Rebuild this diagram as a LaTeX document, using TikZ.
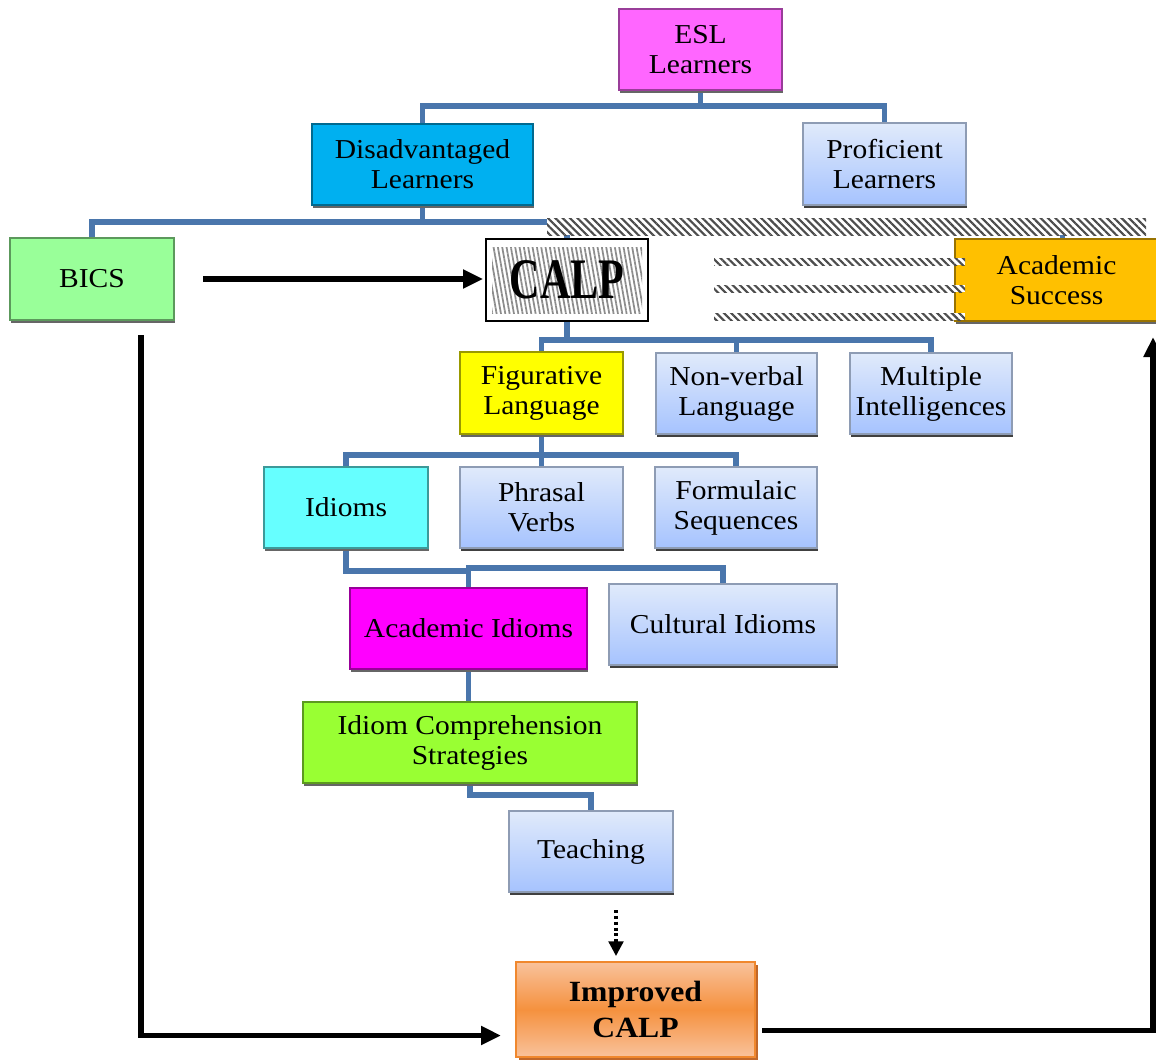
\documentclass[tikz,border=0pt]{standalone}
\usepackage{fontspec}
\setmainfont{Liberation Serif}[FakeStretch=1.08]
\usetikzlibrary{arrows.meta,shadows,patterns.meta,calc}
\definecolor{connc}{HTML}{4A76AC}
\definecolor{eslc}{HTML}{FF66FF}
\definecolor{disc}{HTML}{00B0F0}
\definecolor{bicsc}{HTML}{99FF99}
\definecolor{acsc}{HTML}{FFC000}
\definecolor{figc}{HTML}{FFFF00}
\definecolor{idic}{HTML}{66FFFF}
\definecolor{acidc}{HTML}{FF00FF}
\definecolor{icsc}{HTML}{99FF33}
\definecolor{gtop}{HTML}{E0EAFB}
\definecolor{gbot}{HTML}{A6C3FE}
\definecolor{gborder}{HTML}{8E9CB4}
\definecolor{imptop}{HTML}{F9C29C}
\definecolor{impmid}{HTML}{F5913E}
\definecolor{impborder}{HTML}{F0882E}
\definecolor{impshadow}{HTML}{C0672A}
\pgfdeclarelayer{bg}
\pgfsetlayers{bg,main}
\newcommand\bx[7]{%
  \node[#6, minimum width={(#4-#2)*0.75pt}, minimum height={(#5-#3)*0.75pt}] (#1) at ({(#2+#4)/2},{(#3+#5)/2}) {#7};}
\begin{document}
\begin{tikzpicture}[x=0.75pt,y=-0.75pt,
  base/.style={rectangle, inner sep=0pt, outer sep=0pt, align=center,
    font=\fontsize{20.5}{22.5}\selectfont, line width=0.8pt},
  solidbox/.style={base, fill=#1, draw=#1!60!black,
    drop shadow={shadow xshift=0.8pt, shadow yshift=-2pt, fill=black!60, opacity=1}},
  gradbox/.style={base, top color=gtop, bottom color=gbot, draw=gborder,
    drop shadow={shadow xshift=0.8pt, shadow yshift=-2pt, fill=black!75, opacity=1}},
  calpbox/.style={base, fill=white, draw=black, line width=1.4pt},
  calpin/.style={inner sep=0pt, outer sep=0pt,
    pattern={Lines[angle=100,distance=3.2pt,line width=1.3pt]}, pattern color=black!45},
  impbox/.style={base, top color=imptop, bottom color=imptop, middle color=impmid,
    draw=impborder, font=\fontsize{22}{27}\selectfont\bfseries,
    drop shadow={shadow xshift=2.5pt, shadow yshift=-2pt, fill=impshadow, opacity=1}},
  hatchbar/.style={inner sep=0pt, outer sep=0pt, preaction={fill=white},
    pattern={Lines[angle=-45,distance=3.9pt,line width=1.6pt]}, pattern color=black!70},
  connline/.style={draw=connc, line width=3.8pt, line cap=rect, line join=miter},
  arr/.style={line width=4pt, -{Triangle[length=15pt,width=13.5pt]}},
  dotarr/.style={line width=2.4pt, dash pattern=on 2.2pt off 2.2pt, -{Triangle[length=11pt,width=11pt]}}
]
\useasboundingbox (0,0) rectangle (1156,1060);

% boxes
\bx{esl}{619}{9}{782}{90}{solidbox=eslc}{ESL\\Learners}
\bx{dis}{312}{124}{533}{205}{solidbox=disc}{Disadvantaged\\Learners}
\bx{prof}{803}{123}{966}{205}{gradbox}{Proficient\\Learners}
\bx{bics}{10}{238}{174}{320}{solidbox=bicsc}{BICS}
\bx{calp}{486}{239}{648}{321}{calpbox}{}
\bx{calpt}{492}{247}{642}{313}{calpin}{\scalebox{0.68}[1]{\fontsize{43}{43}\selectfont\bfseries CALP}}
\bx{acs}{955}{239}{1158}{321}{solidbox=acsc}{Academic\\Success}
\bx{fig}{460}{352}{623}{434}{solidbox=figc}{Figurative\\Language}
\bx{nonv}{656}{353}{817}{434}{gradbox}{Non-verbal\\Language}
\bx{multi}{850}{353}{1012}{434}{gradbox}{Multiple\\Intelligences}
\bx{idi}{264}{467}{428}{548}{solidbox=idic}{Idioms}
\bx{phr}{460}{467}{623}{548}{gradbox}{Phrasal\\Verbs}
\bx{form}{655}{467}{817}{548}{gradbox}{Formulaic\\Sequences}
\bx{acid}{350}{588}{587}{669}{solidbox=acidc}{Academic Idioms}
\bx{cult}{609}{584}{837}{665}{gradbox}{Cultural Idioms}
\bx{ics}{303}{702}{637}{783}{solidbox=icsc}{Idiom Comprehension\\Strategies}
\bx{teach}{509}{811}{673}{892}{gradbox}{Teaching}
\bx{imp}{516}{962}{755}{1057}{impbox}{Improved\\CALP}

% hatched bars
\bx{hb0}{547}{218}{1146}{235}{hatchbar}{}
\bx{hb1}{714}{258}{965}{265}{hatchbar}{}
\bx{hb2}{714}{285}{965}{292}{hatchbar}{}
\bx{hb3}{714}{313}{965}{320}{hatchbar}{}

% connectors (behind boxes)
\begin{pgfonlayer}{bg}
\coordinate (j1) at (700.5,106);
\draw[connline] (esl.south) -- (j1);
\draw[connline] (dis.north) |- (j1) -| (prof.north);
\coordinate (j2) at (422.5,222);
\coordinate (j2r) at (550,222);
\draw[connline] (dis.south) -- (j2);
\draw[connline] (bics.north) |- (j2r);
\draw[connline] (calp.north) -- (calp.north |- hb0.south);
\draw[connline] ($(acs.north)+(6,0)$) -- ($(acs.north |- hb0.south)+(6,0)$);
\coordinate (j3) at (567,340);
\draw[connline] (calp.south) -- (j3);
\draw[connline] (fig.north) |- (j3) -| (multi.north);
\draw[connline] (nonv.north) -- (nonv.north |- j3);
\coordinate (j4) at (541.5,455);
\draw[connline] (fig.south) -- (j4);
\draw[connline] (idi.north) |- (j4) -| (form.north);
\draw[connline] (phr.north) -- (phr.north |- j4);
\coordinate (j5) at (346,571);
\coordinate (j5b) at (468.5,568);
\draw[connline] (idi.south) |- (j5) -| (acid.north);
\draw[connline] (j5b) -| (cult.north);
\draw[connline] (acid.south) -- (acid.south |- ics.north);
\coordinate (j6) at (470,795);
\draw[connline] (ics.south) |- (j6) -| (teach.north);
\end{pgfonlayer}

% black arrows
\draw[arr, shorten <=22pt, shorten >=2.2pt] (bics.east) -- (bics.east -| calp.west);
\draw[arr] ($(bics.south)+(49,15)$) |- ($(imp.west)+(-15,26)$);
\draw[arr] ($(imp.east)+(7,21)$) -| ($(acs.south)+(96.5,16)$);
\draw[dotarr] ($(teach.south)+(25,18)$) -- ($(imp.north)+(-19.5,-6)$);
\end{tikzpicture}
\end{document}
